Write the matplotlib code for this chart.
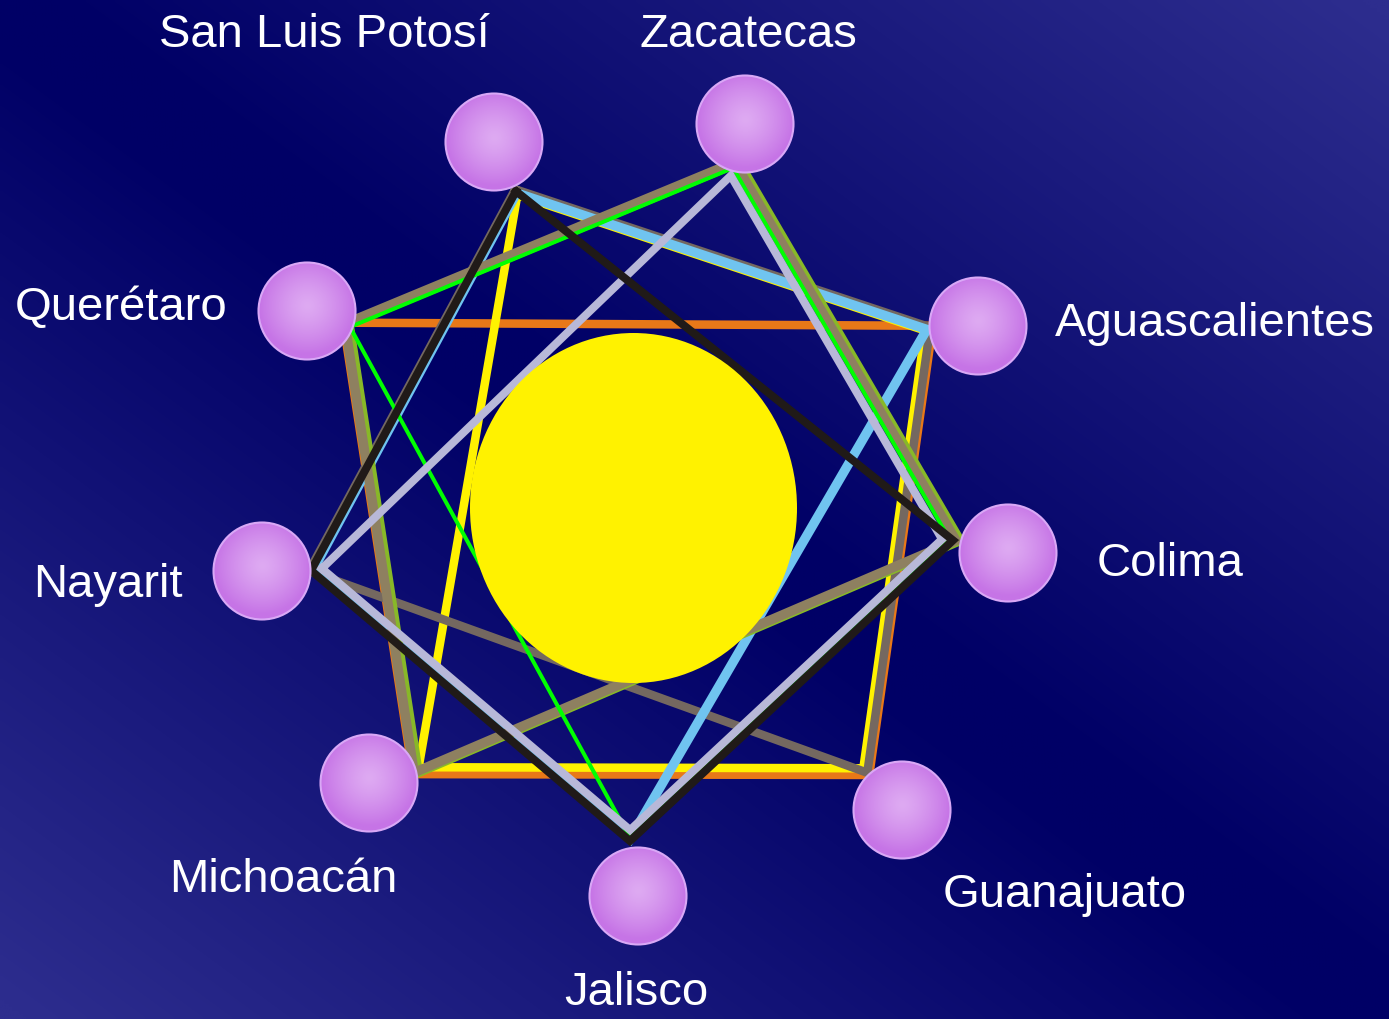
import numpy as np
import matplotlib
matplotlib.use("Agg")
import matplotlib.pyplot as plt
from matplotlib.patches import Circle, Ellipse

W, H = 1389, 1019

# ---- data: nodes of the diagram ----
node_names = ["San Luis Potosí", "Zacatecas", "Aguascalientes", "Colima",
              "Guanajuato", "Jalisco", "Michoacán", "Nayarit", "Querétaro"]
node_x = [494, 745, 978, 1008, 902, 638, 369, 262, 307]
node_y = [142, 124, 326, 553, 810, 896, 783, 571, 311]
port_x = [517, 733, 926, 950, 864, 630, 418, 314, 350]
port_y = [194, 168, 330, 540, 769, 838, 768, 570, 327]
label_x = [324, 748, 1215, 1170, 1065, 636, 283, 108, 121]
label_y = [47, 47, 336, 576, 907, 1005, 892, 597, 320]

# ---- data: closed link polygons (by node name) ----
links_orange = ["Querétaro", "Aguascalientes", "Guanajuato", "Michoacán"]
links_yellow = ["San Luis Potosí", "Aguascalientes", "Guanajuato", "Michoacán"]
links_gray = ["San Luis Potosí", "Aguascalientes", "Guanajuato", "Nayarit"]
links_lightblue = ["San Luis Potosí", "Aguascalientes", "Jalisco", "Nayarit"]
links_olive = ["Querétaro", "Zacatecas", "Colima", "Michoacán"]
links_tan = ["Querétaro", "Zacatecas", "Colima", "Michoacán"]
links_green = ["Querétaro", "Zacatecas", "Colima", "Jalisco"]
links_lavender = ["Nayarit", "Zacatecas", "Colima", "Jalisco"]
links_black = ["San Luis Potosí", "Colima", "Jalisco", "Nayarit"]

# style: (links, color, width px, radial offset px, x shift px)
series = [
    (links_orange, "#E87818", 8.5, 8, 0),
    (links_yellow, "#FFF200", 8.5, -1, 0),
    (links_gray, "#746860", 8.5, 5, 0),
    (links_lightblue, "#70C4F0", 9.5, 1, 0),
    (links_olive, "#88B828", 9.5, 6, 4),
    (links_tan, "#8E8060", 9.5, 6, 0),
    (links_green, "#00FF00", 4, 0, 0),
    (links_lavender, "#B8B8D8", 8, -8, 0),
    (links_black, "#201A18", 8, 3, 0),
]

DPI = 100
fig = plt.figure(figsize=(W / DPI, H / DPI), dpi=DPI)
ax = fig.add_axes([0, 0, 1, 1])
ax.set_xlim(0, W)
ax.set_ylim(H, 0)
ax.axis("off")

# background gradient
gx = np.linspace(0, 1, 400)
gy = np.linspace(0, 1, 300)
U, V = np.meshgrid(gx, gy)
t = np.clip((np.abs(U - V) - 0.04) / 0.94, 0, 1)
dark = np.array([0, 0, 102]) / 255
light = np.array([45, 45, 142]) / 255
bg = dark[None, None, :] + (light - dark)[None, None, :] * t[..., None]
ax.imshow(bg, extent=(0, W, H, 0), origin="upper", aspect="auto",
          interpolation="bilinear", zorder=0)

cx, cy = 635.0, 510.0
idx = {n: i for i, n in enumerate(node_names)}


def vertex(name, roff, xs):
    i = idx[name]
    px, py = port_x[i], port_y[i]
    dx, dy = px - cx, py - cy
    d = np.hypot(dx, dy)
    return px + dx / d * roff + xs, py + dy / d * roff


for z, (links, color, wpx, roff, xs) in enumerate(series):
    pts = [vertex(n, roff, xs) for n in links] + [vertex(links[0], roff, xs)]
    xs_, ys_ = zip(*pts)
    ax.plot(xs_, ys_, color=color, lw=wpx * 72 / DPI, solid_joinstyle="miter",
            solid_capstyle="projecting", zorder=2 + z * 0.1)

# central yellow disc
ax.add_patch(Ellipse((633.5, 508), 327, 350, facecolor="#FFF200",
                     edgecolor="none", zorder=5))

# nodes with radial gradient
R = 48.5
n = 120
gg = np.linspace(-1, 1, n)
GX, GY = np.meshgrid(gg, gg)
rr = np.clip(np.hypot(GX, GY + 0.1), 0, 1)
c_in = np.array([222, 170, 242]) / 255
c_out = np.array([198, 116, 230]) / 255
img = c_in[None, None, :] + (c_out - c_in)[None, None, :] * (rr[..., None] ** 1.3)
for i, name in enumerate(node_names):
    x0, y0 = node_x[i], node_y[i]
    circ = Circle((x0, y0), R, transform=ax.transData, facecolor="none",
                  edgecolor="#D9A8F6", lw=1.5, zorder=7)
    im = ax.imshow(img, extent=(x0 - R, x0 + R, y0 + R, y0 - R), origin="upper",
                   interpolation="bilinear", zorder=6, aspect="auto")
    im.set_clip_path(circ)
    ax.add_patch(circ)
    ax.text(label_x[i], label_y[i], name, color="white", fontsize=34,
            family=["Liberation Sans", "DejaVu Sans"], ha="center",
            va="baseline", zorder=8)

ax.set_xlim(0, W)
ax.set_ylim(H, 0)
fig.savefig("out.png", dpi=DPI)
